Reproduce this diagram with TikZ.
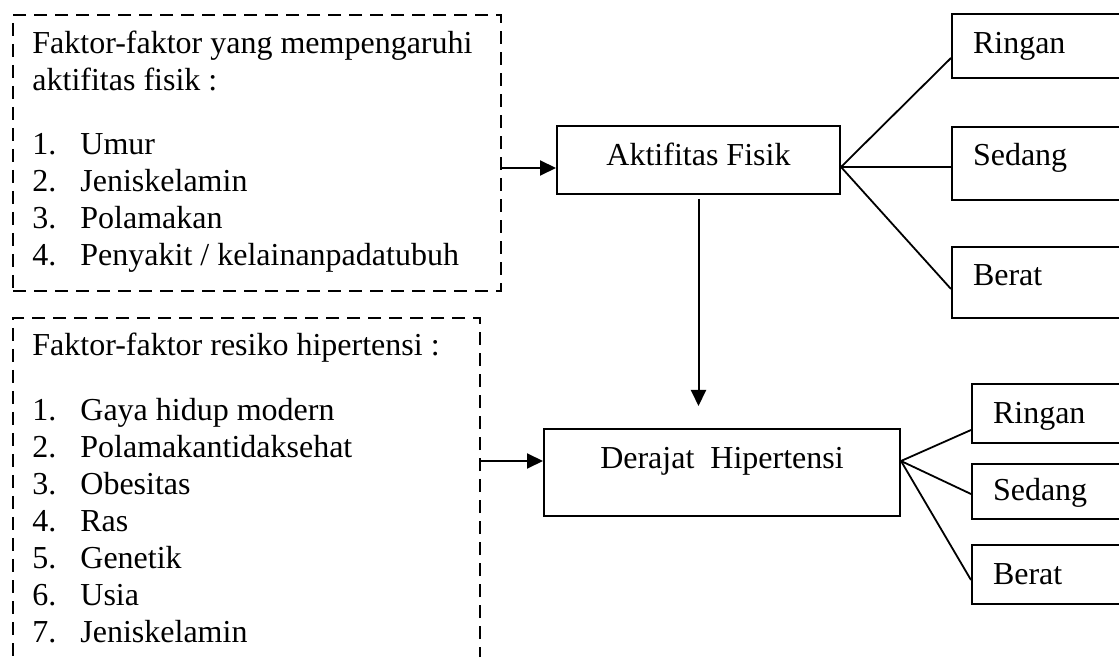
\documentclass[tikz,border=0pt]{standalone}
\usepackage{fontspec}
\setmainfont{Liberation Serif}
\usetikzlibrary{arrows.meta, positioning}
\tikzset{x=0.5pt, y=-0.5pt, % one unit is one pixel, y grows downwards
every node/.style={font=\fontsize{16}{18.5}\selectfont, inner sep=0pt}, % text size of the whole scheme
kotak/.style={draw, line width=1pt, anchor=north west}, % the solid boxes
putus/.style={draw, line width=1pt, dash pattern=on 6.5pt off 4pt, anchor=north west}, % the dashed lists
panah/.style={-{Triangle[length=8pt, width=7.5pt]}, line width=1pt}, % filled arrow heads
garis/.style={line width=0.9pt}, % plain links to the levels
kanan/.style={kotak, text width=73.5pt, inner xsep=10.5pt, align=left}, % level boxes on the right
}
\newcommand{\butir}[2]{\makebox[24pt][l]{#1}#2}

\begin{document}
\begin{tikzpicture}
    \useasboundingbox (0,0) rectangle (1119,657);
    \node[putus, minimum width=244pt, minimum height=138pt] (faktorA) at (12,14) {};
    \node[putus, minimum width=233.5pt, minimum height=200pt] (faktorB) at (12,317) {};
    \node[anchor=north west, align=left] (daftarA) at (32,31) {Faktor-faktor yang mempengaruhi\\aktifitas fisik :\\[13.5pt]\butir{1.}{Umur}\\\butir{2.}{Jeniskelamin}\\\butir{3.}{Polamakan}\\\butir{4.}{Penyakit / kelainanpadatubuh}};
    \node[anchor=north west, align=left] (daftarB) at (32,333) {Faktor-faktor resiko hipertensi :\\[14pt]\butir{1.}{Gaya hidup modern}\\\butir{2.}{Polamakantidaksehat}\\\butir{3.}{Obesitas}\\\butir{4.}{Ras}\\\butir{5.}{Genetik}\\\butir{6.}{Usia}\\\butir{7.}{Jeniskelamin}};
    \node[kotak, minimum width=141.5pt, text height=20pt, text depth=14pt] (aktif) at (556,125) {Aktifitas Fisik};
    \node[kotak, minimum width=178pt, text height=20pt, text depth=23.5pt] (derajat) at (543,428) {Derajat\ \ Hipertensi};
    \node[kanan, text height=20pt, text depth=12pt] (ringanA) at (951,13) {Ringan};
    \node[kanan, text height=19.5pt, text depth=17pt] (sedangA) at (951,126) {Sedang};
    \node[kanan, text height=19.5pt, text depth=16pt] (beratA) at (951,246) {Berat};
    \node[kanan, text height=20pt, text depth=9.5pt] (ringanB) at (971,383) {Ringan};
    \node[kanan, text height=18.5pt, text depth=9pt] (sedangB) at (971,463) {Sedang};
    \node[kanan, text height=19.5pt, text depth=10pt] (beratB) at (971,544) {Berat};
    \coordinate (masukA) at ([yshift=-4pt]aktif.west);
    \coordinate (masukB) at ([yshift=5.75pt]derajat.west);
    \coordinate (cabangA) at ([yshift=-3.5pt]aktif.east);
    \coordinate (cabangB) at ([yshift=5.75pt]derajat.east);
    \coordinate (ujung) at (aktif.south |- derajat.north);
    \draw[panah] (faktorA.east |- masukA) -- (masukA);
    \draw[panah] (faktorB.east |- masukB) -- (masukB);
    \draw[panah] ([yshift=-2pt]aktif.south) -- ([yshift=11pt]ujung);
    \draw[garis] (cabangA) edge ([yshift=-6pt]ringanA.west)
    (cabangA) edge ([yshift=-1.75pt]sedangA.west)
    (cabangA) edge ([yshift=-3.25pt]beratA.west);
    \draw[garis] (cabangB) edge ([yshift=-8.25pt]ringanB.west)
    (cabangB) edge ([yshift=-1.25pt]sedangB.west)
    (cabangB) edge ([yshift=-2.75pt]beratB.west);
  \end{tikzpicture}
\end{document}
